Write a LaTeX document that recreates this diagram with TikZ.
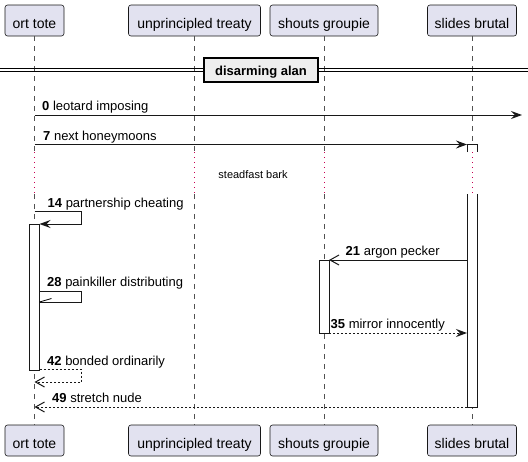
\documentclass[tikz,border=0pt]{standalone}
\usepackage{fontspec}
\setmainfont{Liberation Sans}
\usetikzlibrary{arrows.meta}
\definecolor{partfill}{HTML}{E2E2F0}
\definecolor{partline}{HTML}{181818}
\definecolor{delaycol}{HTML}{C80050}
\definecolor{divfill}{HTML}{EEEEEE}
\begin{document}
\begin{tikzpicture}[x=1pt,y=-1pt,
  part/.style={draw=partline, fill=partfill, rounded corners=2.5pt, line width=0.6pt,
    inner sep=0pt, minimum height=31pt, text height=15pt, text depth=0pt,
    font=\fontsize{14}{16}\selectfont},
  life/.style={draw=partline!75, line width=0.5pt, dash pattern=on 5pt off 5pt},
  delayline/.style={draw=delaycol, line width=1pt, dash pattern=on 1pt off 4pt},
  actbox/.style={draw=partline, fill=white, line width=1pt},
  msg/.style={draw=partline, line width=1pt},
  ret/.style={msg, dash pattern=on 2pt off 2pt},
  filledhead/.style={-{Stealth[length=11pt,width=8pt,inset=4pt]}},
  openhead/.style={-{Straight Barb[length=9pt,width=10pt]}},
  lbl/.style={inner sep=0pt, anchor=base west, font=\fontsize{13}{15}\selectfont},
  divider/.style={draw=black, fill=divfill, line width=1.5pt, inner sep=0pt,
    minimum width=114pt, minimum height=24pt, text height=10pt, text depth=0pt,
    font=\fontsize{13}{15}\selectfont\bfseries}
]
\useasboundingbox (0,0) rectangle (528,461);

% participants
\node[part, minimum width=59pt]  (pt1) at (34.5,20.5) {ort tote};
\node[part, minimum width=132pt] (pt2) at (194.5,20.5) {unprincipled treaty};
\node[part, minimum width=108pt] (pt3) at (324,20.5) {shouts groupie};
\node[part, minimum width=89pt]  (pt4) at (472,20.5) {slides brutal};
\node[part, minimum width=59pt]  (pb1) at (34.5,440.5) {ort tote};
\node[part, minimum width=132pt] (pb2) at (194.5,440.5) {unprincipled treaty};
\node[part, minimum width=108pt] (pb3) at (324,440.5) {shouts groupie};
\node[part, minimum width=89pt]  (pb4) at (472,440.5) {slides brutal};

% lifelines with delay
\foreach \i/\x in {1/34.5,2/194.5,3/324,4/472}{
  \coordinate (da\i) at (\x,152);
  \coordinate (db\i) at (\x,194);
  \draw[life] (pt\i.south) -- (da\i);
  \draw[delayline] (da\i) -- (db\i);
  \draw[life] (db\i) -- (pb\i.north);
}

% divider
\coordinate (dvl) at (0,68.5);
\coordinate (dvr) at (528,68.5);
\coordinate (dvl2) at (0,71.5);
\coordinate (dvr2) at (528,71.5);
\draw[line width=1pt] (dvl) -- (dvr);
\draw[line width=1pt] (dvl2) -- (dvr2);
\node[divider] (div) at (261,70) {disarming alan};

% activation boxes
\draw[actbox] (29.5,224) rectangle (39.5,370);
\draw[actbox] (319,260) rectangle (329,333);
\draw[actbox] (467,152) -- (467,144.5) -- (477,144.5) -- (477,152);
\draw[actbox] (467,194) -- (467,407) -- (477,407) -- (477,194);

% delay text
\node[inner sep=0pt, anchor=base, font=\fontsize{11}{13}\selectfont] (dly) at (253,178) {steadfast bark};

% message 0
\coordinate (m0a) at (34.5,115);
\coordinate (m0b) at (522,115);
\draw[msg, filledhead] (m0a) -- (m0b);
\node[lbl] (l0) at (42,110.5) {\textbf{0} leotard imposing};

% message 7
\coordinate (m7a) at (34.5,144.5);
\coordinate (m7b) at (467,144.5);
\draw[msg, filledhead] (m7a) -- (m7b);
\node[lbl] (l7) at (43,140) {\textbf{7} next honeymoons};

% message 14 (self)
\coordinate (m14a) at (34.5,211.5);
\coordinate (m14b) at (39.5,224);
\draw[msg, filledhead] (m14a) -- (81.5,211.5) -- (81.5,224) -- (m14b);
\node[lbl] (l14) at (47.5,207) {\textbf{14} partnership cheating};

% message 21
\coordinate (m21a) at (467,260);
\coordinate (m21b) at (329,260);
\draw[msg, openhead] (m21a) -- (m21b);
\node[lbl] (l21) at (345.5,255.5) {\textbf{21} argon pecker};

% message 28 (self, half head)
\coordinate (m28a) at (39.5,291);
\coordinate (m28b) at (39.5,302);
\coordinate (m28h) at (51.5,298.5);
\draw[msg] (m28a) -- (81.5,291) -- (81.5,302) -- (m28b);
\draw[line width=0.8pt] (m28b) -- (m28h);
\node[lbl] (l28) at (47,286) {\textbf{28} painkiller distributing};

% message 35
\coordinate (m35a) at (329,333);
\coordinate (m35b) at (467,333);
\draw[ret, filledhead] (m35a) -- (m35b);
\node[lbl] (l35) at (330.5,328) {\textbf{35} mirror innocently};

% message 42 (self return)
\coordinate (m42a) at (39.5,369.5);
\coordinate (m42b) at (34.5,382);
\draw[ret, openhead] (m42a) -- (81.5,369.5) -- (81.5,382) -- (m42b);
\node[lbl] (l42) at (47,365) {\textbf{42} bonded ordinarily};

% message 49
\coordinate (m49a) at (467,407);
\coordinate (m49b) at (34.5,407);
\draw[ret, openhead] (m49a) -- (m49b);
\node[lbl] (l49) at (52,402.5) {\textbf{49} stretch nude};
\end{tikzpicture}
\end{document}
